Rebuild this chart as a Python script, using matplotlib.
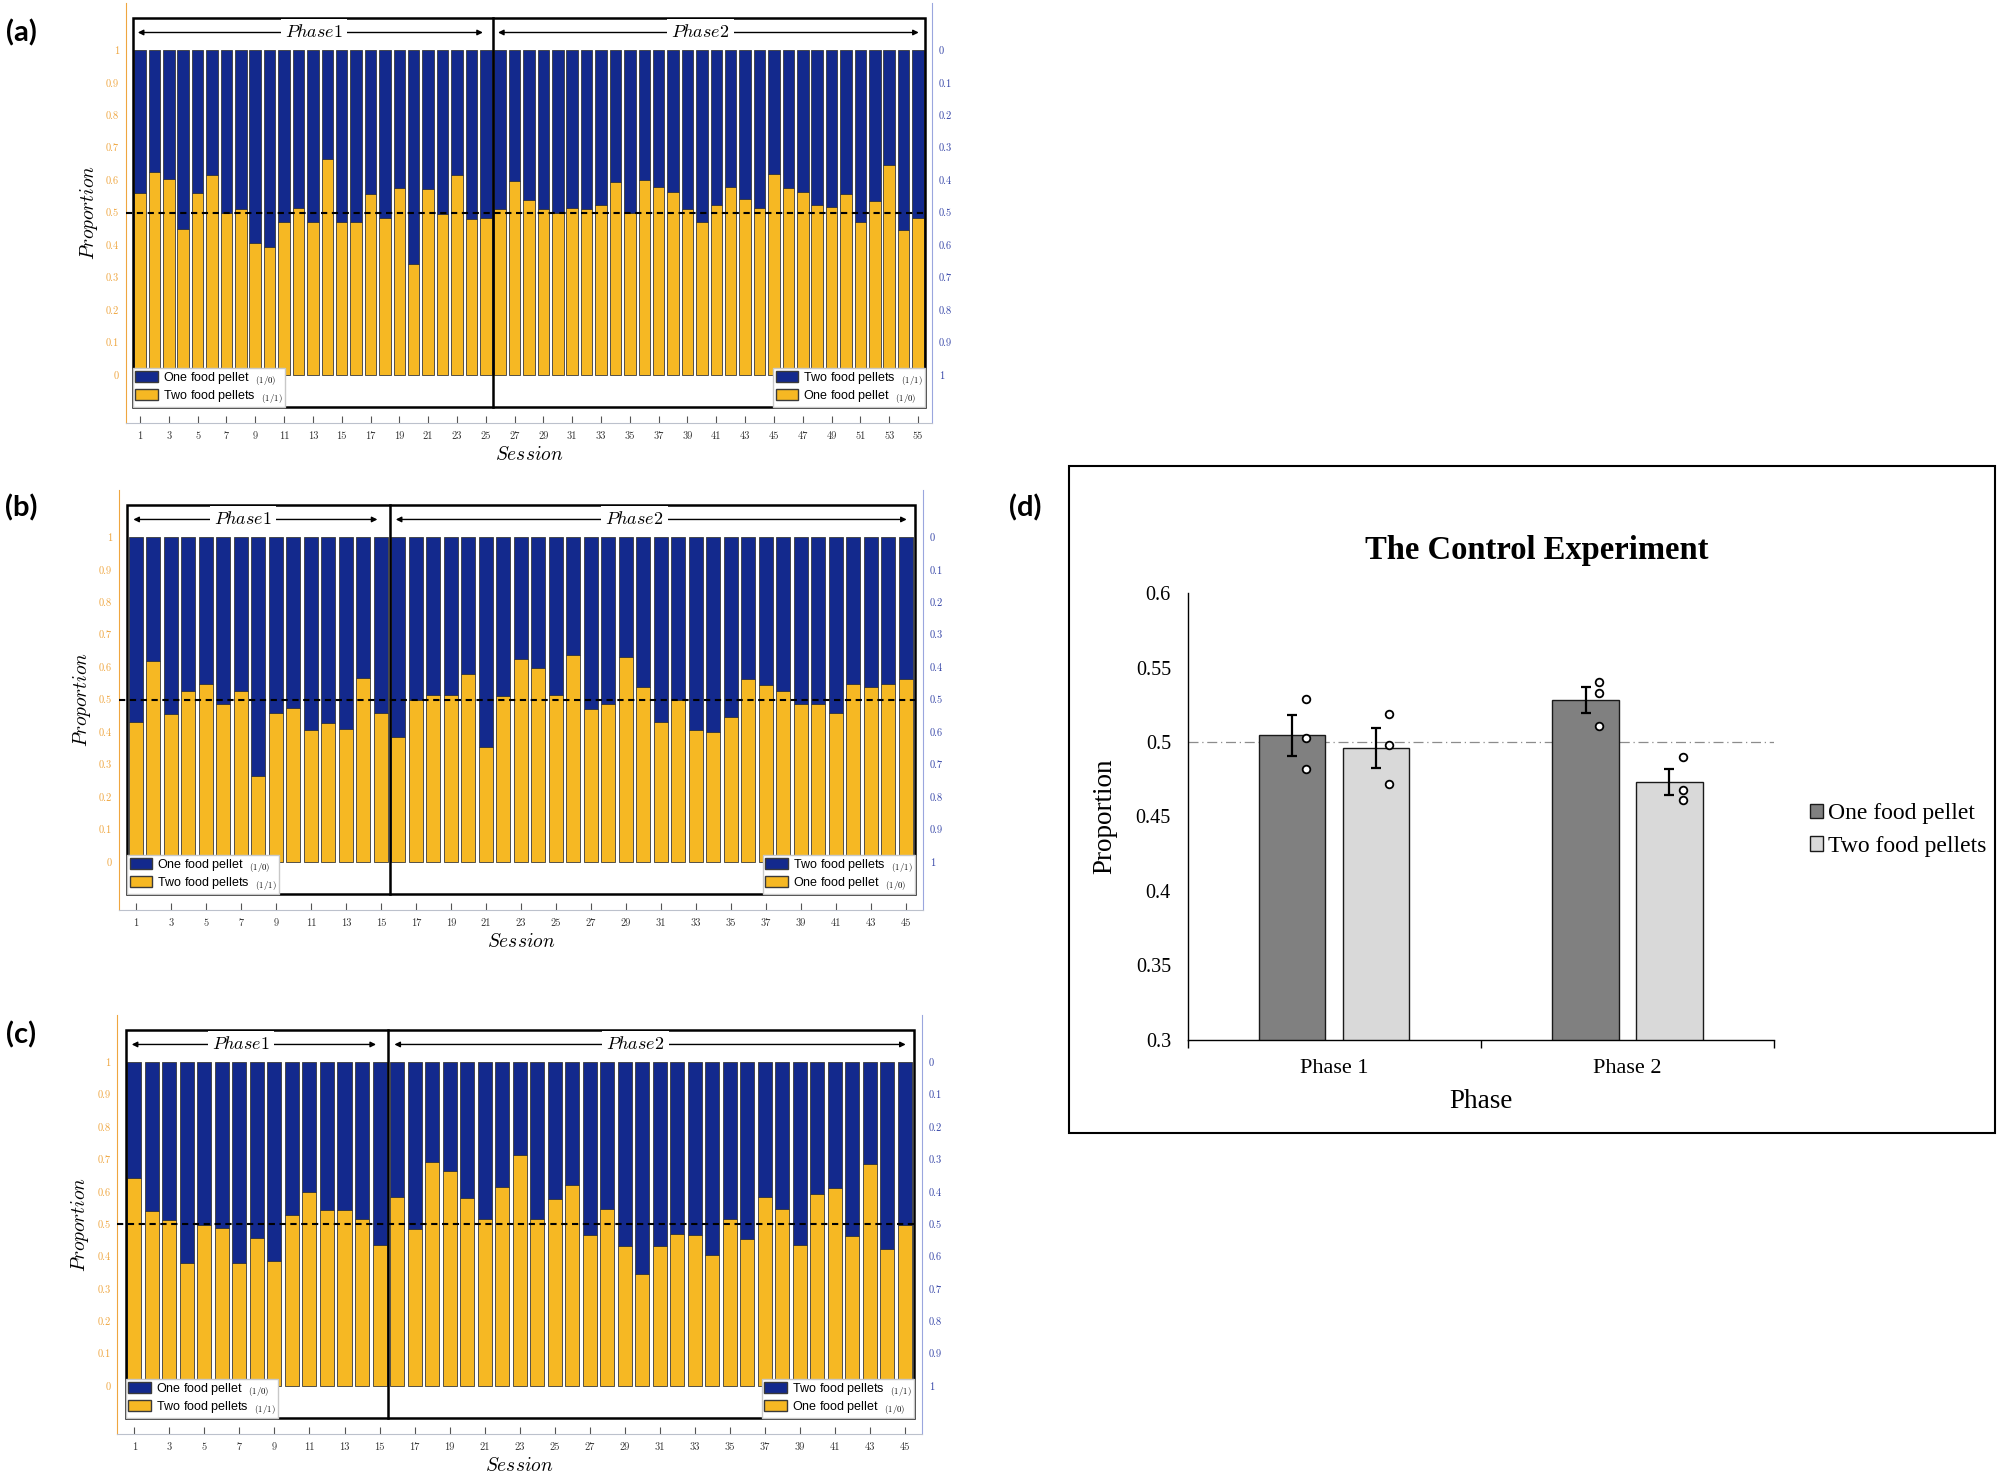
import numpy as np
import matplotlib
matplotlib.use("Agg")
import matplotlib.pyplot as plt
from matplotlib.patches import Rectangle, Patch

plt.rcParams['mathtext.fontset'] = 'cm'

# ---- session panels (a)-(c): height of the yellow segment per session ----
# phase 1: yellow = two food pellets (1/1); phase 2: yellow = one food pellet (1/0)
prop_a = [0.562, 0.626, 0.604, 0.451, 0.561, 0.617, 0.499, 0.511, 0.408, 0.394,
          0.471, 0.513, 0.471, 0.665, 0.471, 0.471, 0.559, 0.484, 0.577, 0.341,
          0.574, 0.497, 0.617, 0.482, 0.484,
          0.511, 0.598, 0.539, 0.512, 0.499, 0.513, 0.512, 0.523, 0.593, 0.500,
          0.602, 0.578, 0.563, 0.512, 0.470, 0.523, 0.578, 0.541, 0.513, 0.619,
          0.577, 0.563, 0.524, 0.517, 0.558, 0.472, 0.537, 0.646, 0.446, 0.485]
phase1_a = 25

prop_b = [0.432, 0.620, 0.457, 0.526, 0.549, 0.487, 0.526, 0.264, 0.460, 0.475,
          0.405, 0.429, 0.410, 0.566, 0.460,
          0.384, 0.498, 0.514, 0.514, 0.579, 0.353, 0.512, 0.624, 0.598, 0.514,
          0.638, 0.472, 0.485, 0.630, 0.538, 0.432, 0.498, 0.406, 0.400, 0.447,
          0.563, 0.546, 0.527, 0.485, 0.485, 0.460, 0.549, 0.540, 0.549, 0.563]
phase1_b = 15

prop_c = [0.642, 0.541, 0.514, 0.379, 0.499, 0.487, 0.381, 0.458, 0.387, 0.528,
          0.599, 0.545, 0.545, 0.516, 0.437,
          0.585, 0.484, 0.692, 0.665, 0.580, 0.516, 0.615, 0.714, 0.516, 0.577,
          0.620, 0.467, 0.547, 0.433, 0.345, 0.433, 0.470, 0.468, 0.405, 0.515,
          0.453, 0.584, 0.547, 0.436, 0.594, 0.612, 0.463, 0.686, 0.422, 0.499]
phase1_c = 15

left_labels = ['One food pellet', 'Two food pellets']
left_tags = ['(1/0)', '(1/1)']
right_labels = ['Two food pellets', 'One food pellet']
right_tags = ['(1/1)', '(1/0)']

# ---- panel (d) ----
phases = ['Phase 1', 'Phase 2']
one_mean = [0.5046, 0.5280]
two_mean = [0.4958, 0.4732]
one_sem = [0.0137, 0.0088]
two_sem = [0.0135, 0.0085]
one_pts = [[0.529, 0.503, 0.482], [0.540, 0.533, 0.511]]
two_pts = [[0.519, 0.498, 0.472], [0.490, 0.468, 0.461]]
d_labels = ['One food pellet', 'Two food pellets']

BLUE = '#13298D'
YELLOW = '#F6B823'
EDGE = '#3a3a3a'
ORANGE = '#EFA640'
BLUE_TXT = '#3646A8'
BLUE_AX = '#9AA6DE'


def tagged(labels, tags):
    return [f'{l}  ${{}}_{{{t}}}$' for l, t in zip(labels, tags)]


def session_panel(ax, props, n_p1, txt_x):
    props = np.array(props)
    n = len(props)
    x = np.arange(1, n + 1)
    ax.bar(x, props, width=0.8, color=YELLOW, edgecolor=EDGE, linewidth=0.6, zorder=2)
    ax.bar(x, 1 - props, bottom=props, width=0.8, color=BLUE, edgecolor=EDGE,
           linewidth=0.6, zorder=2)
    ax.set_xlim(0.03, n + 0.97)
    ax.set_ylim(-0.148, 1.146)
    ax.hlines(0.5, 0.03, n + 0.5, colors='k', linestyles=(0, (3, 2.2)), lw=1.5, zorder=3)

    # frame box and phase divider
    ax.add_patch(Rectangle((0.5, -0.1), n, 1.2, fill=False, ec='k', lw=1.8,
                           zorder=4, clip_on=False))
    ax.plot([n_p1 + 0.5] * 2, [-0.1, 1.1], color='k', lw=1.8, zorder=4)

    # phase arrows
    spans = [(0.85, n_p1 - 0.2), (n_p1 + 0.85, n + 0.05)]
    for (a0, a1), tx, name in zip(spans, txt_x, ['$Phase1$', '$Phase2$']):
        ax.annotate('', xy=(a0, 1.055), xytext=(a1, 1.055),
                    arrowprops=dict(arrowstyle='<|-|>', color='k', lw=1.0,
                                    mutation_scale=8, shrinkA=0, shrinkB=0), zorder=3)
        ax.text(tx, 1.055, name, ha='center', va='center', fontsize=13, zorder=5,
                bbox=dict(fc='white', ec='none', pad=3))

    # axes styling
    ax.spines['top'].set_visible(False)
    ax.spines['right'].set_visible(False)
    ax.spines['left'].set_color(ORANGE)
    ax.spines['bottom'].set_color('#BCC1CC')
    yt = np.round(np.arange(0, 1.01, 0.1), 1)
    ylab = ['0'] + [f'{v:.1f}' for v in yt[1:-1]] + ['1']
    ax.set_yticks(yt)
    ax.set_yticklabels(ylab)
    ax.tick_params(axis='y', colors=ORANGE, length=0, labelsize=7.5, pad=5,
                   labelfontfamily='cmr10')
    ax.set_xticks(x[::2])
    ax.tick_params(axis='x', direction='in', length=5, color='#555555',
                   labelcolor='#333333', labelsize=7.5, pad=6, labelfontfamily='cmr10')

    sec = ax.secondary_yaxis('right', functions=(lambda v: 1 - v, lambda v: 1 - v))
    sec.set_yticks(yt)
    sec.set_yticklabels(ylab)
    sec.spines['right'].set_color(BLUE_AX)
    sec.tick_params(colors=BLUE_TXT, length=0, labelsize=7.5, pad=5,
                    labelfontfamily='cmr10')

    # legends
    hl = [Patch(fc=BLUE, ec=EDGE), Patch(fc=YELLOW, ec=EDGE)]
    common = dict(bbox_transform=ax.transData, borderaxespad=0, fancybox=False,
                  edgecolor='#C8C8C8', framealpha=1,
                  prop={'family': 'Liberation Sans', 'size': 9},
                  handlelength=1.8, handleheight=1.0, labelspacing=0.15,
                  borderpad=0.2, handletextpad=0.4)
    leg1 = ax.legend(hl, tagged(left_labels, left_tags), loc='lower left',
                     bbox_to_anchor=(0.5, -0.1), **common)
    leg1.set_zorder(6)
    ax.add_artist(leg1)
    leg2 = ax.legend(hl, tagged(right_labels, right_tags), loc='lower right',
                     bbox_to_anchor=(n + 0.5, -0.1), **common)
    leg2.set_zorder(6)

    ax.text(-0.046, 0.5, '$Proportion$', transform=ax.transAxes, rotation=90,
            ha='center', va='center', fontsize=14)
    ax.text(0.5, -0.076, '$Session$', transform=ax.transAxes,
            ha='center', va='center', fontsize=14)


fig = plt.figure(figsize=(20, 14.77), dpi=100)

ax_a = fig.add_axes([0.063, 0.7136, 0.403, 0.2844])
session_panel(ax_a, prop_a, phase1_a, (13.1, 39.9))
ax_b = fig.add_axes([0.0595, 0.3839, 0.4019, 0.2844])
session_panel(ax_b, prop_b, phase1_b, (7.1, 29.5))
ax_c = fig.add_axes([0.0587, 0.0291, 0.4022, 0.2837])
session_panel(ax_c, prop_c, phase1_c, (7.1, 29.6))

# ---- panel (d) ----
serif = 'Liberation Serif'
axd = fig.add_axes([0.5938, 0.2959, 0.2933, 0.3026])
xc = np.arange(len(phases))
off, w = 0.143, 0.226
axd.axhline(0.5, color='#8c8c8c', lw=0.9, ls=(0, (8, 3, 1, 3)), zorder=1)
axd.bar(xc - off, one_mean, w, color='#808080', edgecolor='#1a1a1a', lw=1.0, zorder=2,
        label=d_labels[0])
axd.bar(xc + off, two_mean, w, color='#D9D9D9', edgecolor='#1a1a1a', lw=1.0, zorder=2,
        label=d_labels[1])
axd.errorbar(xc - off, one_mean, yerr=one_sem, fmt='none', ecolor='k', elinewidth=1.6,
             capsize=3.5, capthick=1.6, zorder=3)
axd.errorbar(xc + off, two_mean, yerr=two_sem, fmt='none', ecolor='k', elinewidth=1.6,
             capsize=3.5, capthick=1.6, zorder=3)
for i in range(len(phases)):
    axd.plot([xc[i] - off + 0.045] * len(one_pts[i]), one_pts[i], 'o', ms=5.5, mfc='white',
             mec='k', mew=1.3, zorder=4)
    axd.plot([xc[i] + off + 0.045] * len(two_pts[i]), two_pts[i], 'o', ms=5.5, mfc='white',
             mec='k', mew=1.3, zorder=4)
axd.set_ylim(0.3, 0.6)
axd.set_xlim(-0.5, 1.5)
axd.set_yticks([0.3, 0.35, 0.4, 0.45, 0.5, 0.55, 0.6])
axd.set_yticklabels(['0.3', '0.35', '0.4', '0.45', '0.5', '0.55', '0.6'],
                    fontfamily=serif, fontsize=14.5)
axd.set_xticks(xc)
axd.set_xticklabels(phases, fontfamily=serif, fontsize=16)
axd.set_xticks([-0.5, 0.5, 1.5], minor=True)
axd.tick_params(axis='y', length=0, pad=12)
axd.tick_params(axis='x', which='major', length=0, pad=14)
axd.tick_params(axis='x', which='minor', length=6, width=1, direction='out')
for s in ['top', 'right']:
    axd.spines[s].set_visible(False)
for s in ['left', 'bottom']:
    axd.spines[s].set_linewidth(1.0)
axd.set_ylabel('Proportion', fontfamily=serif, fontsize=19.5)
axd.yaxis.set_label_coords(-0.12, 0.5)
axd.set_xlabel('Phase', fontfamily=serif, fontsize=19.5)
axd.xaxis.set_label_coords(0.5, -0.11)
axd.legend(loc='center left', bbox_to_anchor=(1.025, 0.47), frameon=False,
           prop={'family': serif, 'size': 17}, handlelength=0.55, handleheight=0.55,
           handletextpad=0.2, labelspacing=0.5)
fig.text(0.7685, 0.6276, 'The Control Experiment', ha='center', va='center',
         fontfamily=serif, fontweight='bold', fontsize=23.5)
fig.add_artist(Rectangle((0.5345, 0.2329), 0.463, 0.4516, transform=fig.transFigure,
                         fill=False, ec='k', lw=1.5))

# panel letters
for lab, px, py in [('(a)', 0.0105, 0.978), ('(b)', 0.0105, 0.656),
                    ('(c)', 0.0105, 0.299), ('(d)', 0.5125, 0.656)]:
    fig.text(px, py, lab, ha='center', va='center', fontsize=21, fontweight='bold',
             fontfamily='Lato')

fig.savefig('out.png', dpi=100)
